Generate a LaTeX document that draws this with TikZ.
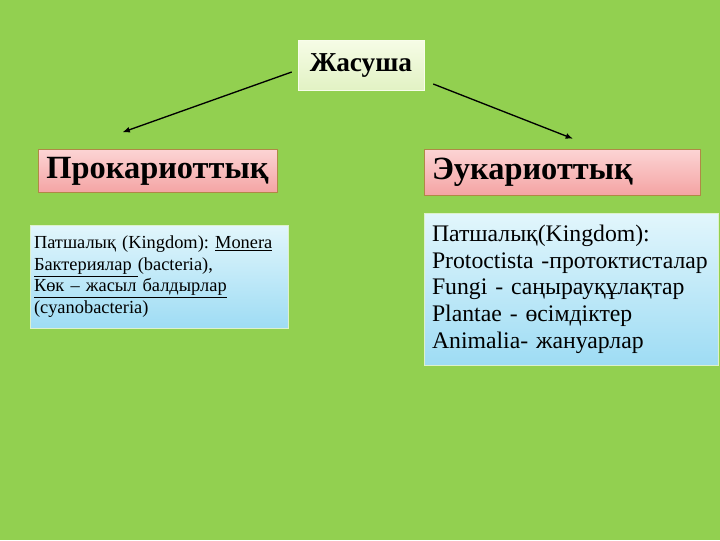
\documentclass[tikz,border=0pt]{standalone}
\usepackage{fontspec}
\setmainfont{Liberation Serif}
\usepackage{xcolor}
\definecolor{slidegreen}{RGB}{146, 208, 80}
\definecolor{titletop}{RGB}{246, 252, 230}
\definecolor{titlebottom}{RGB}{226, 242, 196}
\definecolor{headtop}{RGB}{252, 212, 212}
\definecolor{headbottom}{RGB}{244, 164, 164}
\definecolor{headborder}{RGB}{176, 136, 70}
\definecolor{listtop}{RGB}{226, 246, 252}
\definecolor{listbottom}{RGB}{158, 220, 244}
\usetikzlibrary{arrows.meta, positioning, calc}
\frenchspacing

\begin{document}
\begin{tikzpicture}[
    x=0.75pt, y=-0.75pt,
    title/.style={rectangle, draw=titletop!80!white, top color=titletop, bottom color=titlebottom, minimum width=126*0.75pt, minimum height=50*0.75pt, font=\fontsize{20.5}{24}\selectfont\bfseries},
    header/.style={rectangle, draw=headborder, top color=headtop, bottom color=headbottom, minimum height=43*0.75pt, inner ysep=0pt, font=\fontsize{24.3}{28}\selectfont\bfseries},
    kingdoms/.style={rectangle, draw=white!70!slidegreen, top color=listtop, bottom color=listbottom, align=left, inner ysep=0pt},
    link/.style={draw=black, line width=1pt, -{Latex[length=5.5pt, width=4.5pt]}}
]
    \fill[slidegreen] (0,0) rectangle (720,540);
    \useasboundingbox (0,0) rectangle (720,540);

    \node[title] (cell) at (361,65) {Жасуша};

    \node[header, minimum width=239*0.75pt] (prok) at (157.5,171) {Прокариоттық};
    \node[header, text width=276*0.75pt-12pt, inner xsep=6pt, align=left, minimum height=46*0.75pt] (euk) at (562,172) {Эукариоттық};

    \node[kingdoms, text width=258*0.75pt-6pt, inner xsep=3pt, minimum height=103*0.75pt, font=\fontsize{13.8}{16.1}\selectfont] (prokList) at (159,276.5) {Патшалық (Kingdom): \underline{Monera}\\
        \underline{Бактериялар }(bacteria),\\
        \underline{Көк – жасыл балдырлар}\\
        (cyanobacteria)};
    \node[kingdoms, text width=294*0.75pt-12pt, inner xsep=6pt, minimum height=152*0.75pt, font=\fontsize{17.8}{20}\selectfont] (eukList) at (571,289) {Патшалық(Kingdom):\\
        Protoctista -протоктисталар\\
        Fungi - саңырауқұлақтар\\
        Plantae - өсімдіктер\\
        Animalia- жануарлар};

    \draw[link] ([shift={(-6,7)}]cell.west) -- ([shift={(-35,-17)}]prok.north);
    \draw[link] ([shift={(9,19)}]cell.east) -- ([shift={(11,-10)}]euk.north);
\end{tikzpicture}
\end{document}
